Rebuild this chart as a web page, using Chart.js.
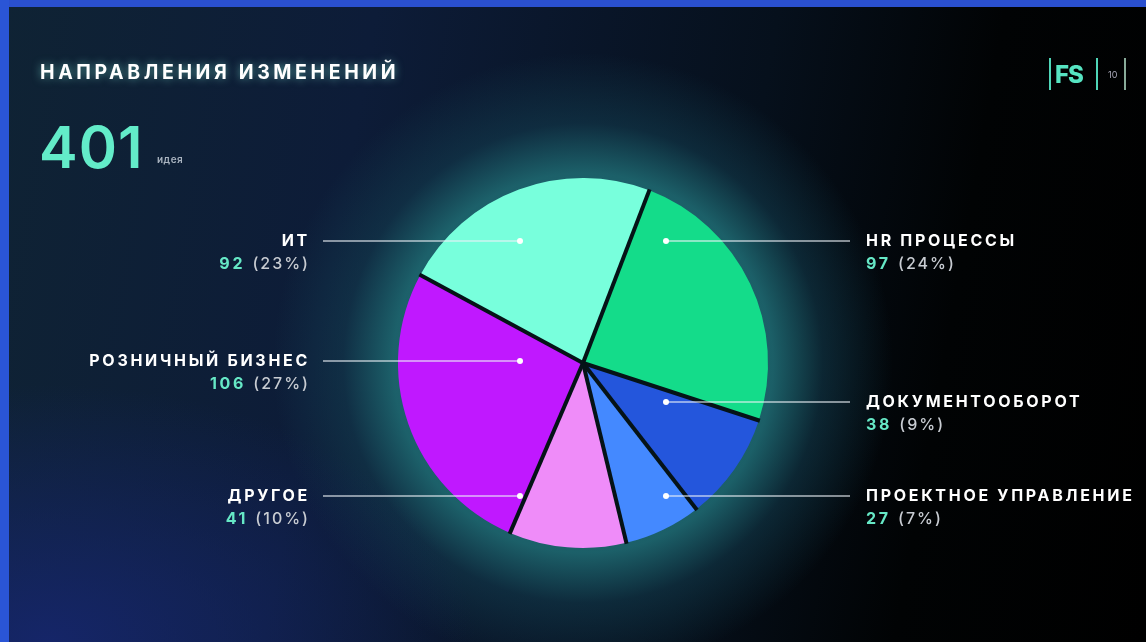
<!DOCTYPE html>
<html lang="ru">
<head>
<meta charset="utf-8">
<script src="https://cdn.jsdelivr.net/npm/chart.js@4"></script>
<style>
  html, body { margin: 0; padding: 0; }
  body {
    width: 1146px; height: 642px; overflow: hidden; position: relative;
    font-family: "Inter", "DejaVu Sans", sans-serif;
    background:
      radial-gradient(circle at 583px 363px, rgba(36,122,128,0.95) 0, rgba(30,104,112,0.9) 190px, rgba(20,66,84,0.5) 240px, rgba(12,40,60,0) 310px),
      linear-gradient(100deg, #0f2334 0%, #0d1c38 30%, #06101c 62%, #010304 80%, #000 100%);
  }
  body::before {
    content: ""; position: absolute; left: 0; bottom: 0; width: 480px; height: 260px;
    background: radial-gradient(ellipse at 10% 100%, rgba(22,38,110,0.9) 0, rgba(22,38,110,0) 70%);
  }
  .frame-top { position: absolute; left: 0; top: 0; width: 100%; height: 7px; background: #2a50cf; }
  .frame-left { position: absolute; left: 0; top: 0; width: 9px; height: 100%; background: #2a55d6; }
  #wrap { position: absolute; left: 0; top: 0; width: 1146px; height: 642px; }
  .title {
    position: absolute; left: 40px; top: 60px; color: #fff; font-weight: 700;
    font-size: 19.5px; letter-spacing: 3.6px; white-space: nowrap;
    text-shadow: 0 0 8px rgba(140,255,230,0.55);
  }
  .big { position: absolute; left: 39px; top: 112px; color: #63ecc9; font-weight: 600; font-size: 58px; letter-spacing: 1px; }
  .unit { position: absolute; left: 157px; top: 153px; color: #aab4c0; font-size: 10px; font-weight: 600; letter-spacing: .5px; }
  .lbl { position: absolute; font-size: 16px; line-height: 23px; letter-spacing: 2.7px; white-space: nowrap; }
  .lbl .n { color: #fff; font-weight: 700; }
  .lbl .v { color: #66e8c6; font-weight: 700; }
  .lbl .p { color: #c8ccd2; font-weight: 500; letter-spacing: 2px; }
  .left { text-align: right; width: 301px; }
  .logo { position: absolute; left: 1049px; top: 58px; width: 52px; height: 34px; }
  .logo .b1 { position: absolute; left: 0; top: 0; width: 49px; height: 32px; border-left: 2px solid #4fd6b8; border-right: 2px solid #4fd6b8; box-sizing: border-box; }
  .logo .fs { position: absolute; left: 6px; top: 2px; color: #56e4c2; font-weight: 800; font-size: 24px; letter-spacing: -1px; }
  .logo .ten { position: absolute; left: 59px; top: 11px; color: #aab; font-size: 9px; }
  .logo .b2 { position: absolute; left: 49px; top: 0; width: 28px; height: 32px; border-right: 2px solid #8a9; box-sizing: border-box; }
</style>
</head>
<body>
<div class="frame-top"></div>
<div class="frame-left"></div>
<div id="wrap"><canvas id="pieChart" width="1146" height="642"></canvas></div>

<div class="title">НАПРАВЛЕНИЯ ИЗМЕНЕНИЙ</div>
<div class="big">401</div>
<div class="unit">идея</div>
<div class="logo"><div class="b1"></div><div class="fs">FS</div><div class="b2"></div><div class="ten">10</div></div>
<div id="labels"></div>

<script>
// ──────── DATA ────────
const categories = ["HR ПРОЦЕССЫ", "ДОКУМЕНТООБОРОТ", "ПРОЕКТНОЕ УПРАВЛЕНИЕ", "ДРУГОЕ", "РОЗНИЧНЫЙ БИЗНЕС", "ИТ"];
const ideaCounts = [97, 38, 27, 41, 106, 92];
const sharePct = [24, 9, 7, 10, 27, 23];
const sliceColors = ["#14dc8a", "#2456dc", "#4489ff", "#ef8cf9", "#c018ff", "#78ffdc"];

// label layout: side and row (y of title line)
const labelSide = ["right", "right", "right", "left", "left", "left"];
const labelRow = [241, 402, 496, 496, 361, 241];

// ──────── LABELS ────────
const labelBox = document.getElementById("labels");
categories.forEach((name, i) => {
  const div = document.createElement("div");
  div.className = "lbl" + (labelSide[i] === "left" ? " left" : "");
  div.style.top = (labelRow[i] - 12) + "px";
  div.style.left = labelSide[i] === "left" ? "9px" : "866px";
  div.innerHTML = `<div class="n">${name}</div><div><span class="v">${ideaCounts[i]}</span> <span class="p">(${sharePct[i]}%)</span></div>`;
  labelBox.appendChild(div);
});

// ──────── DARK SEPARATORS BETWEEN SLICES ────────
const separators = {
  id: "separators",
  afterDatasetsDraw(chart) {
    const { ctx } = chart;
    ctx.save();
    ctx.strokeStyle = "#051317";
    ctx.lineWidth = 4;
    ctx.lineCap = "butt";
    chart.getDatasetMeta(0).data.forEach(arc => {
      const r = arc.outerRadius + 1;
      ctx.beginPath();
      ctx.moveTo(arc.x, arc.y);
      ctx.lineTo(arc.x + r * Math.cos(arc.startAngle), arc.y + r * Math.sin(arc.startAngle));
      ctx.stroke();
    });
    ctx.restore();
  }
};

// ──────── LEADER LINES ────────
const leaders = {
  id: "leaders",
  afterDatasetsDraw(chart) {
    const { ctx } = chart;
    const cx = chart.getDatasetMeta(0).data[0].x;
    ctx.save();
    ctx.strokeStyle = "rgba(235,240,245,0.75)";
    ctx.fillStyle = "#ffffff";
    ctx.lineWidth = 1.5;
    categories.forEach((_, i) => {
      const y = labelRow[i];
      const dotX = labelSide[i] === "left" ? cx - 63 : cx + 83;
      const endX = labelSide[i] === "left" ? 323 : 850;
      ctx.beginPath();
      ctx.moveTo(dotX, y);
      ctx.lineTo(endX, y);
      ctx.stroke();
      ctx.beginPath();
      ctx.arc(dotX, y, 3, 0, Math.PI * 2);
      ctx.fill();
    });
    ctx.restore();
  }
};

// ──────── PIE ────────
new Chart(document.getElementById("pieChart").getContext("2d"), {
  type: "pie",
  data: {
    labels: categories,
    datasets: [{
      data: ideaCounts,
      backgroundColor: sliceColors,
      borderWidth: 0,
      hoverOffset: 0
    }]
  },
  options: {
    responsive: false,
    animation: false,
    rotation: 21,
    layout: { padding: { top: 177, bottom: 93, left: 398, right: 378 } },
    plugins: { legend: { display: false }, tooltip: { enabled: false } }
  },
  plugins: [separators, leaders]
});
</script>
</body>
</html>
